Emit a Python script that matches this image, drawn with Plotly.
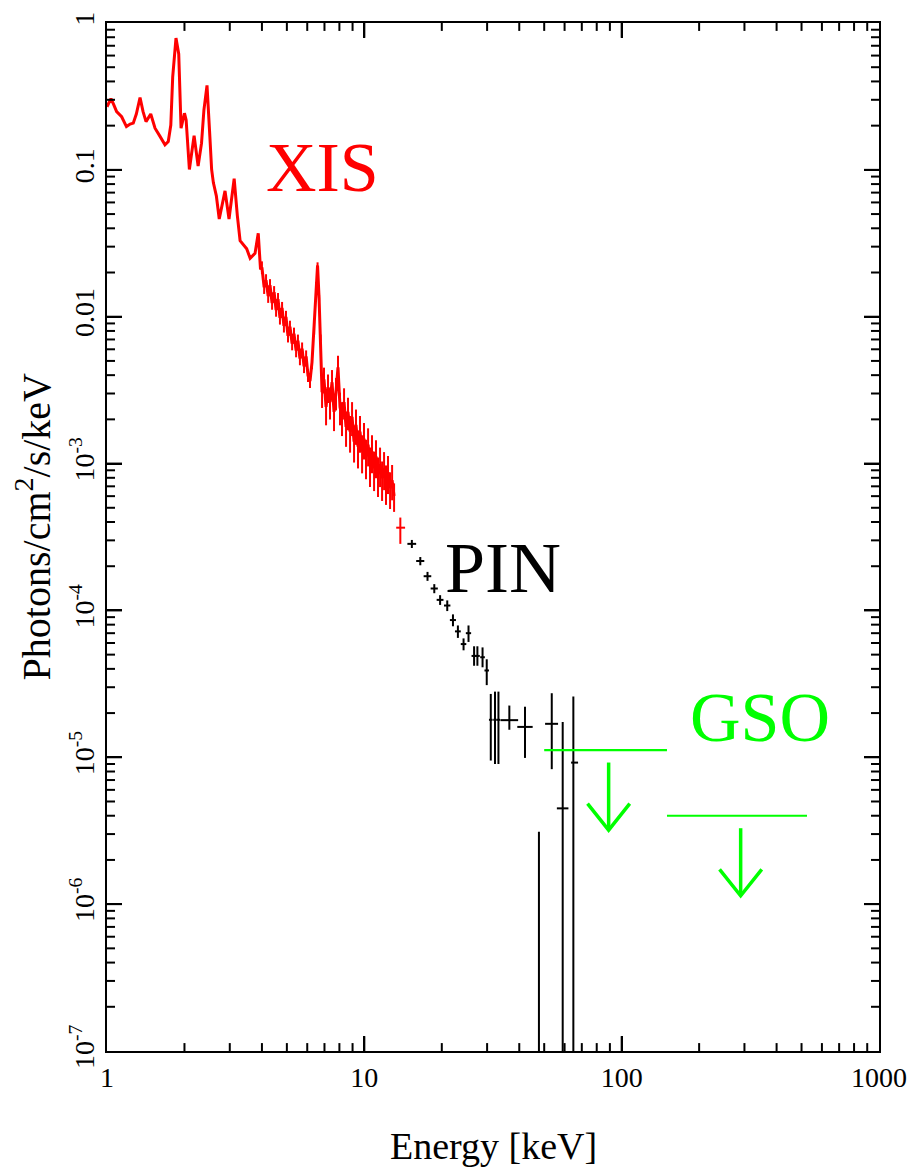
import numpy as np
import plotly.graph_objects as go

# ---------------- data ----------------
# XIS spectrum: energy [keV], flux [photons/cm2/s/keV], fractional error
XIS_E = [1.00, 1.036, 1.06, 1.09, 1.14, 1.19, 1.23, 1.265, 1.30, 1.344, 1.38, 1.418,
         1.479, 1.537, 1.607, 1.68, 1.73, 1.77, 1.80, 1.854, 1.90, 1.94, 2.00, 2.03,
         2.09, 2.18, 2.26, 2.33, 2.38, 2.447, 2.51, 2.55, 2.59, 2.66, 2.73, 2.80,
         2.875, 2.98, 3.12, 3.21, 3.29, 3.49, 3.60, 3.76, 3.87, 3.95,
         4.00, 4.08, 4.15, 4.23, 4.30, 4.38, 4.46, 4.54, 4.62, 4.70, 4.79, 4.87,
         4.96, 5.05, 5.14, 5.24, 5.33, 5.43, 5.52, 5.62, 5.73, 5.83, 5.94, 6.04,
         6.15, 6.26, 6.38, 6.49, 6.58, 6.67, 6.76,
         6.85, 6.97, 7.10, 7.225, 7.355, 7.49, 7.625, 7.76, 7.90, 8.045, 8.19, 8.34,
         8.49, 8.64, 8.80, 8.96, 9.12, 9.28, 9.45, 9.62, 9.80, 9.97, 10.15, 10.34,
         10.52, 10.71, 10.91, 11.10, 11.30, 11.51, 11.72, 11.93, 12.14, 12.36, 12.59,
         12.82, 13.05]
XIS_F = [0.269, 0.306, 0.28, 0.249, 0.23, 0.197, 0.205, 0.208, 0.24, 0.311, 0.25, 0.213,
         0.24, 0.192, 0.169, 0.148, 0.156, 0.202, 0.428, 0.789, 0.615, 0.192, 0.243, 0.219,
         0.1006, 0.171, 0.106, 0.152, 0.255, 0.376, 0.169, 0.1006, 0.0819, 0.0665, 0.0463, 0.0585,
         0.0719, 0.0463, 0.087, 0.0488, 0.033, 0.029, 0.025, 0.027, 0.037, 0.021,
         0.02165, 0.01588, 0.0177, 0.0138, 0.01638, 0.0124, 0.01469, 0.01111, 0.01318, 0.00982, 0.01146, 0.00867,
         0.00997, 0.00742, 0.00854, 0.00656, 0.00766, 0.00588, 0.00687, 0.00519, 0.00607, 0.00459, 0.00536, 0.00399,
         0.00364, 0.00488, 0.0084, 0.01563, 0.02234, 0.01338, 0.0072,
         0.003066, 0.00375, 0.002429, 0.003313, 0.002625, 0.00358, 0.002248, 0.003066, 0.004519, 0.002429, 0.00208, 0.002625,
         0.001781, 0.002248, 0.001648, 0.00208, 0.001411, 0.001837, 0.001305, 0.001648, 0.001208, 0.001478, 0.001118, 0.001347,
         0.000988, 0.001208, 0.000928, 0.001118, 0.000846, 0.000988, 0.000795, 0.000928, 0.000747, 0.000873, 0.000681,
         0.00077, 0.000601]
XIS_ERR = [0.0] * 46 + [0.10] * 28 + [0.05] * 3 + [
    0.22, 0.20, 0.25, 0.22, 0.24, 0.21, 0.26, 0.25, 0.20, 0.25, 0.26, 0.24,
    0.27, 0.25, 0.28, 0.26, 0.28, 0.27, 0.29, 0.28, 0.29, 0.28, 0.30, 0.29,
    0.30, 0.29, 0.30, 0.29, 0.30, 0.30, 0.30, 0.29, 0.30, 0.29, 0.28, 0.27, 0.22]

# last wide XIS bin
XISB_E = [13.8]
XISB_EM = [0.5]
XISB_EP = [0.6]
XISB_F = [3.66e-4]
XISB_FP = [0.63e-4]
XISB_FM = [0.82e-4]

# PIN spectrum
PIN_E = [15.3, 16.5, 17.6, 18.7, 19.7, 21.0, 22.1, 23.1, 24.3, 25.4, 26.7, 27.5, 28.8, 29.9,
         31.0, 32.2, 33.2, 36.6, 42.1, 47.7, 53.5, 59.0, 64.9]
PIN_EM = [0.6, 0.6, 0.6, 0.6, 0.6, 0.6, 0.6, 0.6, 0.6, 0.6, 0.6, 0.6, 0.6, 0.6,
          0.5, 0.5, 0.5, 2.8, 2.8, 3.0, 3.1, 3.0, 1.3]
PIN_EP = [0.6, 0.6, 0.6, 0.6, 0.6, 0.6, 0.6, 0.6, 0.6, 0.6, 0.6, 0.6, 0.6, 0.6,
          0.5, 0.5, 0.5, 3.0, 3.0, 3.0, 3.1, 3.1, 2.8]
PIN_F = [2.84e-4, 2.17e-4, 1.71e-4, 1.41e-4, 1.18e-4, 1.08e-4, 8.6e-5, 7.2e-5, 5.9e-5, 7.0e-5,
         4.9e-5, 4.9e-5, 4.8e-5, 3.9e-5, 1.8e-5, 1.8e-5, 1.8e-5, 1.79e-5, 1.61e-5, 1.0e-8,
         1.69e-5, 4.49e-6, 9.2e-6]
PIN_FP = [1.8e-5, 1.4e-5, 1.2e-5, 1.0e-5, 9e-6, 9e-6, 8e-6, 7e-6, 5.5e-6, 9e-6,
          8e-6, 8e-6, 8e-6, 7.5e-6, 9e-6, 1.0e-5, 1.0e-5, 4.6e-6, 6e-6, 3.1e-6,
          1.04e-5, 1.29e-5, 1.67e-5]
PIN_FM = [1.8e-5, 1.4e-5, 1.2e-5, 1.0e-5, 9e-6, 9e-6, 8e-6, 7e-6, 5.5e-6, 9e-6,
          7e-6, 7e-6, 7e-6, 8e-6, 8.5e-6, 9e-6, 9e-6, 2.5e-6, 6.2e-6, 0.0,
          8.6e-6, 4.42e-6, 9.13e-6]

# GSO upper limits
GSO_ELO = [50.0, 150.0]
GSO_EHI = [150.0, 525.0]
GSO_F = [1.12e-5, 4.0e-6]
GSO_ARROW_E = [89.0, 290.0]

# axis ticks / labels
X_RANGE_LOG = [0, 3]
Y_RANGE_LOG = [-7, 0]
X_TICKS = [1, 10, 100, 1000]
X_TICKTEXT = ["1", "10", "100", "1000"]
Y_TICKS = [1, 0.1, 0.01, 1e-3, 1e-4, 1e-5, 1e-6, 1e-7]
Y_TICKTEXT = ["1", "0.1", "0.01", "10<sup>-3</sup>", "10<sup>-4</sup>",
              "10<sup>-5</sup>", "10<sup>-6</sup>", "10<sup>-7</sup>"]
MINOR_DIGITS = [2, 3, 4, 5, 6, 7, 8, 9]

# ---------------- styling ----------------
RED = "#ff0000"
GREEN = "#00ff00"
FONT = "Liberation Serif"
W, H = 922, 1171
M_L, M_R, M_T, M_B = 107, 43, 12, 120
MAJOR_LEN, MINOR_LEN = 15, 8          # tick lengths in px
TICK_W = 2
ARROW_GAP = 0.085   # decades between limit line and arrow start
ARROW_LEN = 0.46    # decades, shaft length
HEAD_W = 0.082      # decades in x
HEAD_H = 0.18       # decades in y

PLOT_W = W - M_L - M_R
PLOT_H = H - M_T - M_B

fig = go.Figure()

xe = np.array(XIS_E)
xf = np.array(XIS_F)
xerr = np.array(XIS_ERR) * xf
fig.add_trace(go.Scatter(
    x=xe, y=xf, mode="lines",
    line=dict(color=RED, width=3),
    error_y=dict(type="data", array=xerr, symmetric=True, color=RED, thickness=2, width=0),
    showlegend=False, hoverinfo="skip"))

fig.add_trace(go.Scatter(
    x=XISB_E, y=XISB_F, mode="markers", marker=dict(size=1, color=RED),
    error_x=dict(type="data", array=XISB_EP, arrayminus=XISB_EM, symmetric=False,
                 color=RED, thickness=2, width=0),
    error_y=dict(type="data", array=XISB_FP, arrayminus=XISB_FM, symmetric=False,
                 color=RED, thickness=2, width=0),
    showlegend=False, hoverinfo="skip"))

fig.add_trace(go.Scatter(
    x=PIN_E, y=PIN_F, mode="markers", marker=dict(size=1, color="black"),
    error_x=dict(type="data", array=PIN_EP, arrayminus=PIN_EM, symmetric=False,
                 color="black", thickness=2, width=0),
    error_y=dict(type="data", array=PIN_FP, arrayminus=PIN_FM, symmetric=False,
                 color="black", thickness=2, width=0),
    showlegend=False, hoverinfo="skip"))

# GSO limit lines and arrows
for elo, ehi, f, ea in zip(GSO_ELO, GSO_EHI, GSO_F, GSO_ARROW_E):
    fig.add_trace(go.Scatter(x=[elo, ehi], y=[f, f], mode="lines",
                             line=dict(color=GREEN, width=2.2),
                             showlegend=False, hoverinfo="skip"))
    top = f * 10 ** (-ARROW_GAP)
    tip = top * 10 ** (-ARROW_LEN)
    fig.add_trace(go.Scatter(x=[ea, ea], y=[top, tip], mode="lines",
                             line=dict(color=GREEN, width=3.5),
                             showlegend=False, hoverinfo="skip"))
    fig.add_trace(go.Scatter(
        x=[ea * 10 ** (-HEAD_W), ea, ea * 10 ** HEAD_W],
        y=[tip * 10 ** HEAD_H, tip, tip * 10 ** HEAD_H],
        mode="lines", line=dict(color=GREEN, width=3.5),
        showlegend=False, hoverinfo="skip"))

# inside tick marks on all four sides, as paper-referenced shapes
def xfrac(v):
    return (np.log10(v) - X_RANGE_LOG[0]) / (X_RANGE_LOG[1] - X_RANGE_LOG[0])


def yfrac(v):
    return (np.log10(v) - Y_RANGE_LOG[0]) / (Y_RANGE_LOG[1] - Y_RANGE_LOG[0])


x_major = X_TICKS[1:-1]
y_major = Y_TICKS[1:-1]
x_minor = [k * 10.0 ** d for d in range(X_RANGE_LOG[0], X_RANGE_LOG[1]) for k in MINOR_DIGITS]
y_minor = [k * 10.0 ** d for d in range(Y_RANGE_LOG[0], Y_RANGE_LOG[1]) for k in MINOR_DIGITS]
shapes = []
tick_line = dict(color="black", width=TICK_W)
for vals, L in ((x_major, MAJOR_LEN), (x_minor, MINOR_LEN)):
    dy = L / PLOT_H
    for v in vals:
        p = float(xfrac(v))
        shapes.append(dict(type="line", xref="paper", yref="paper", x0=p, x1=p,
                           y0=0, y1=dy, line=tick_line, layer="above"))
        shapes.append(dict(type="line", xref="paper", yref="paper", x0=p, x1=p,
                           y0=1, y1=1 - dy, line=tick_line, layer="above"))
for vals, L in ((y_major, MAJOR_LEN), (y_minor, MINOR_LEN)):
    dx = L / PLOT_W
    for v in vals:
        p = float(yfrac(v))
        shapes.append(dict(type="line", xref="paper", yref="paper", y0=p, y1=p,
                           x0=0, x1=dx, line=tick_line, layer="above"))
        shapes.append(dict(type="line", xref="paper", yref="paper", y0=p, y1=p,
                           x0=1, x1=1 - dx, line=tick_line, layer="above"))

axis_common = dict(
    type="log", showgrid=False, zeroline=False,
    showline=True, linecolor="black", linewidth=2, mirror="ticks",
    ticks="inside", ticklen=MAJOR_LEN, tickwidth=TICK_W, tickcolor="black",
    tickfont=dict(family=FONT, size=28, color="black"),
    tickmode="array",
)
fig.update_layout(
    xaxis=dict(**axis_common, range=X_RANGE_LOG, tickvals=X_TICKS, ticktext=X_TICKTEXT),
    yaxis=dict(**axis_common, range=Y_RANGE_LOG, tickvals=Y_TICKS, ticktext=Y_TICKTEXT,
               tickangle=-90),
)

annots = [
    dict(text="XIS", x=np.log10(6.9), y=np.log10(0.1038), xref="x", yref="y",
         font=dict(family=FONT, size=70, color=RED)),
    dict(text="PIN", x=np.log10(34.5), y=np.log10(1.93e-4), xref="x", yref="y",
         font=dict(family=FONT, size=72, color="black")),
    dict(text="GSO", x=np.log10(345), y=np.log10(1.86e-5), xref="x", yref="y",
         font=dict(family=FONT, size=70, color=GREEN)),
    dict(text="Energy [keV]", x=0.5, y=-0.092, xref="paper", yref="paper",
         font=dict(family=FONT, size=38, color="black")),
    dict(text="Photons/cm<sup>2</sup>/s/keV", x=-0.095, y=0.51, xref="paper", yref="paper",
         textangle=-90, font=dict(family=FONT, size=40, color="black")),
]
for a in annots:
    a.update(showarrow=False, xanchor="center", yanchor="middle")
fig.update_layout(
    width=W, height=H,
    margin=dict(l=M_L, r=M_R, t=M_T, b=M_B),
    paper_bgcolor="white", plot_bgcolor="white",
    annotations=annots, shapes=shapes, showlegend=False,
)

fig.write_html("out.html")
